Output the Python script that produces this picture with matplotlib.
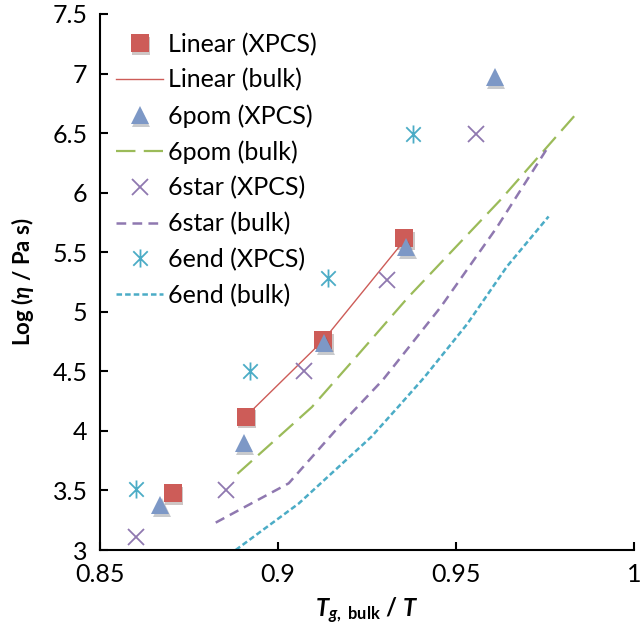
import numpy as np
import matplotlib
matplotlib.use("Agg")
import matplotlib.pyplot as plt
import matplotlib.patheffects as pe
from matplotlib.path import Path

plt.rcParams['font.family'] = ['Lato', 'DejaVu Sans']
plt.rcParams['mathtext.fontset'] = 'custom'
plt.rcParams['mathtext.rm'] = 'Lato'
plt.rcParams['mathtext.it'] = 'Lato:italic'
plt.rcParams['mathtext.bf'] = 'Lato:bold'
plt.rcParams['mathtext.bfit'] = 'Lato:italic:bold'
plt.rcParams['mathtext.fallback'] = 'stixsans'
plt.rcParams['lines.scale_dashes'] = False

# XPCS points
lin_x = [0.8704, 0.8909, 0.9127, 0.9355]
lin_y = [3.48, 4.12, 4.76, 5.62]
pom_x = [0.8669, 0.8904, 0.9130, 0.9360, 0.9609]
pom_y = [3.38, 3.90, 4.74, 5.54, 6.97]
star_x = [0.8602, 0.8855, 0.9074, 0.9305, 0.9555]
star_y = [3.11, 3.50, 4.50, 5.27, 6.49]
end_x = [0.8602, 0.8920, 0.9141, 0.9380]
end_y = [3.51, 4.50, 5.28, 6.49]

# bulk curves
lin_bx = [0.8909, 0.9127, 0.9355]
lin_by = [4.12, 4.76, 5.60]
pom_bx = [0.8886, 0.9095, 0.9225, 0.9365, 0.9625, 0.9843]
pom_by = [3.64, 4.20, 4.64, 5.12, 5.94, 6.68]
star_bx = [0.8825, 0.9030, 0.9178, 0.9295, 0.9457, 0.9615, 0.9760]
star_by = [3.23, 3.56, 4.06, 4.43, 5.04, 5.71, 6.39]
end_bx = [0.8881, 0.9058, 0.9262, 0.9337, 0.9411, 0.9532, 0.9643, 0.9760]
end_by = [3.00, 3.39, 3.95, 4.20, 4.45, 4.90, 5.38, 5.80]

red = '#CD5C58'
blue = '#7D98C6'
green = '#9BBB59'
purple = '#8F78B0'
cyan = '#4BACC6'

# excel-style star: X plus vertical bar
star_path = Path([(0, -1), (0, 1), (-0.8, -0.8), (0.8, 0.8), (-0.8, 0.8), (0.8, -0.8)],
                 [Path.MOVETO, Path.LINETO, Path.MOVETO, Path.LINETO, Path.MOVETO, Path.LINETO])

shadow = [pe.SimplePatchShadow(offset=(1, -2), alpha=0.25), pe.Normal()]

fig = plt.figure(figsize=(6.42, 6.33), dpi=100)
ax = fig.add_axes([0.1558, 0.1311, 0.8318, 0.8468])

ax.plot(lin_x, lin_y, 's', color=red, ms=13, mec='none', label='Linear (XPCS)', path_effects=shadow)
ax.plot(lin_bx, lin_by, '-', color=red, lw=1.0, label='Linear (bulk)')
ax.plot(pom_x, pom_y, '^', color=blue, ms=13, mec='none', label='6pom (XPCS)', path_effects=shadow)
ax.plot(pom_bx, pom_by, color=green, lw=1.6, dashes=(14, 6), label='6pom (bulk)')
ax.plot(star_x, star_y, 'x', color=purple, ms=12, mew=1.3, label='6star (XPCS)')
ax.plot(star_bx, star_by, color=purple, lw=1.8, dashes=(7, 4.5), label='6star (bulk)')
ax.plot(end_x, end_y, ls='none', marker=star_path, color=cyan, mfc='none', ms=13, mew=1.3,
        label='6end (XPCS)')
ax.plot(end_bx, end_by, color=cyan, lw=1.8, dashes=(4, 2.2), label='6end (bulk)')

ax.set_xlim(0.85, 1.0)
ax.set_ylim(3, 7.5)
ax.set_xticks([0.85, 0.9, 0.95, 1.0])
ax.set_xticklabels(['0.85', '0.9', '0.95', '1'])
ax.set_yticks(np.arange(3, 7.51, 0.5))
ax.set_yticklabels(['3', '3.5', '4', '4.5', '5', '5.5', '6', '6.5', '7', '7.5'])
ax.spines['top'].set_visible(False)
ax.spines['right'].set_visible(False)
ax.spines['left'].set_linewidth(1.5)
ax.spines['bottom'].set_linewidth(1.5)
ax.tick_params(direction='in', length=6, width=1.5, labelsize=18, pad=9)

ax.set_xlabel(r'$\mathbfit{T}_{\mathbfit{g}\mathbf{,\ bulk}}$ / $\mathbfit{T}$', fontsize=17,
              fontweight='bold', labelpad=7)
ax.set_ylabel(r'Log ($\mathbfit{\eta}$ / Pa s)', fontsize=16, fontweight='bold', labelpad=12)

ax.legend(loc='upper left', bbox_to_anchor=(0.012, 0.984), frameon=False, fontsize=18,
          handlelength=1.85, handletextpad=0.2, labelspacing=0.5, borderaxespad=0)

fig.savefig('out.png', dpi=100)
